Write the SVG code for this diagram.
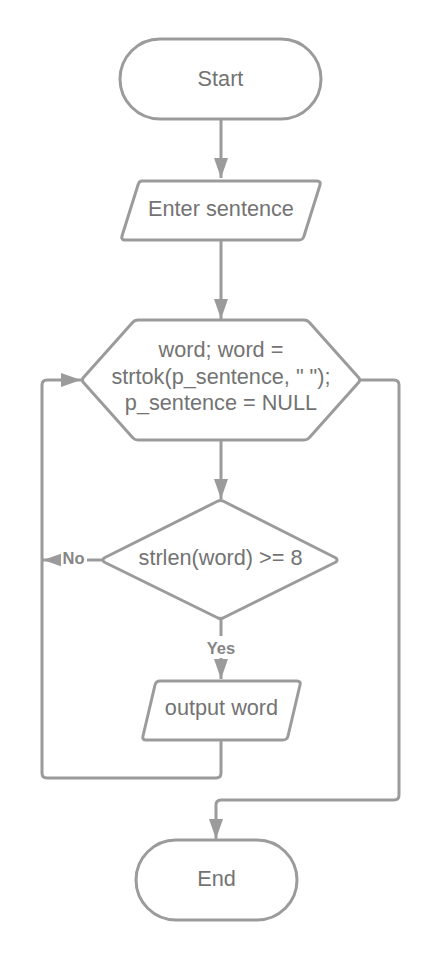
<svg xmlns="http://www.w3.org/2000/svg" width="441" height="960" viewBox="0 0 441 960">
<style>
.shape{fill:#ffffff;stroke:#9b9b9b;stroke-width:3;stroke-linejoin:round}
.t{font-family:"Liberation Sans",Arial,sans-serif;font-size:21.7px;fill:#737373;text-anchor:middle}
.lbl{font-family:"Liberation Sans",Arial,sans-serif;font-size:16.5px;font-weight:bold;fill:#858585;text-anchor:middle}
.c{fill:none;stroke:#9b9b9b;stroke-width:3;stroke-linejoin:round}
</style>
<defs>
<marker id="ah" viewBox="0 0 20 14" refX="20" refY="7" markerWidth="20" markerHeight="14" markerUnits="userSpaceOnUse" orient="auto">
<path d="M0,0 L20,7 L0,14 Z" fill="#9b9b9b"/>
</marker>
</defs>
<rect width="441" height="960" fill="#ffffff"/>
<g id="connectors">
<path class="c" d="M221,120 V178" marker-end="url(#ah)"/>
<path class="c" d="M221,241 V319" marker-end="url(#ah)"/>
<path class="c" d="M221,441 V499" marker-end="url(#ah)"/>
<path class="c" d="M102,560 H43" marker-end="url(#ah)"/>
<path class="c" d="M221,619 V679" marker-end="url(#ah)"/>
<path class="c" d="M221,741 V773 Q221,778 216,778 H47 Q42,778 42,773 V385 Q42,380 47,380 H81" marker-end="url(#ah)"/>
<path class="c" d="M360,380 H394 Q399,380 399,385 V795 Q399,800 394,800 H221 Q216,800 216,805 V839" marker-end="url(#ah)"/>
</g>
<g id="start">
<rect class="shape" x="120" y="39" width="201" height="80" rx="40" ry="40"/>
<text class="t" x="220.5" y="85.5">Start</text>
</g>
<g id="enter">
<path class="shape" d="M142,181 H317 Q321,181 320,185 L304,236 Q303,240 299,240 H125 Q121,240 122,236 L138,185 Q139,181 142,181 Z"/>
<text class="t" x="221" y="216">Enter sentence</text>
</g>
<g id="loop">
<path class="shape" d="M138,320 H304 Q307,320 309,322 L359,378 Q360,380 359,382 L309,438 Q307,440 304,440 H138 Q135,440 133,438 L83,382 Q82,380 83,378 L133,322 Q135,320 138,320 Z"/>
<text class="t" x="221" y="357">word; word =</text>
<text class="t" x="221" y="383.5">strtok(p_sentence, " ");</text>
<text class="t" x="221" y="410">p_sentence = NULL</text>
</g>
<g id="decision">
<path class="shape" d="M218,501 Q220.5,500 223,501 L336,558 Q338,560 336,562 L223,618 Q220.5,619 218,618 L104,562 Q102,560 104,558 Z"/>
<text class="t" x="220.5" y="565">strlen(word) &gt;= 8</text>
</g>
<g id="no-label">
<rect x="61" y="549" width="26" height="19" fill="#ffffff"/>
<text class="lbl" x="73.5" y="563.5">No</text>
</g>
<g id="yes-label">
<rect x="205" y="636" width="32" height="22" fill="#ffffff"/>
<text class="lbl" x="221" y="653.5">Yes</text>
</g>
<g id="output">
<path class="shape" d="M160,681 H297 Q301,681 300,685 L288,736 Q287,740 283,740 H146 Q142,740 143,736 L155,685 Q156,681 160,681 Z"/>
<text class="t" x="221.5" y="715">output word</text>
</g>
<g id="end">
<rect class="shape" x="136" y="840" width="161" height="80" rx="40" ry="40"/>
<text class="t" x="216.5" y="885.5">End</text>
</g>
</svg>
